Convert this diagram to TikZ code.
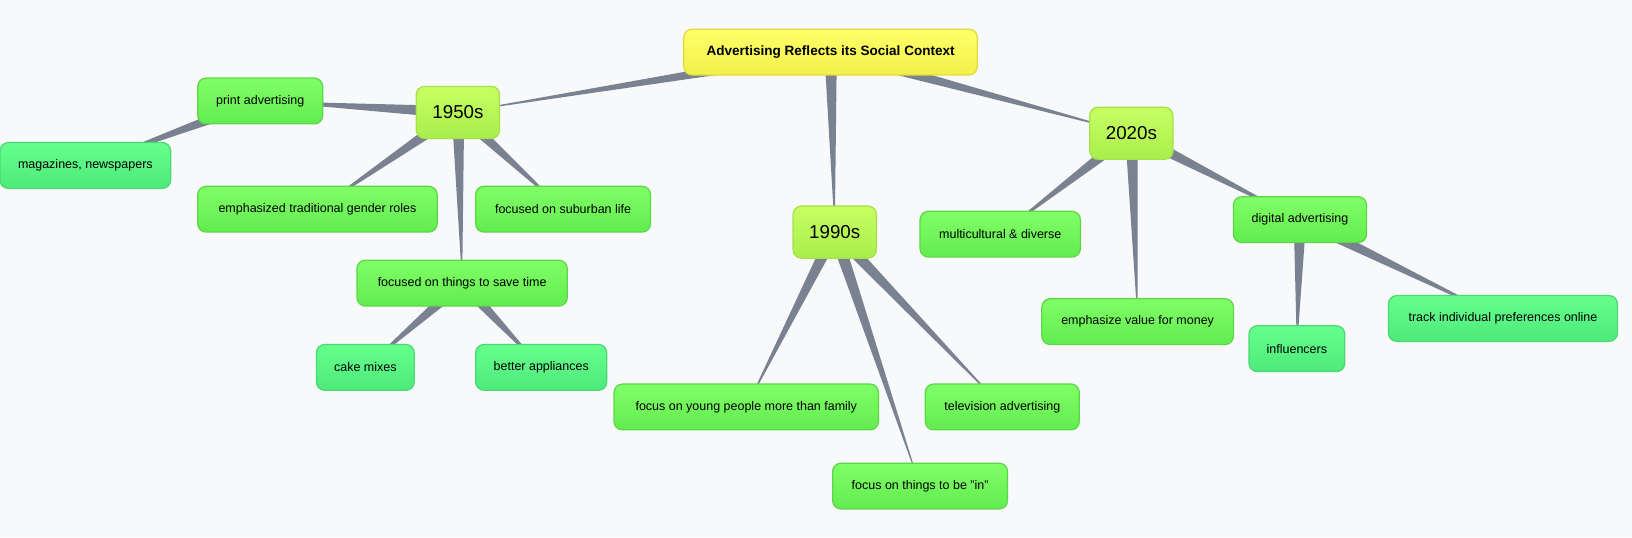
\documentclass[tikz,border=0pt]{standalone}
\usepackage{fontspec}
\setmainfont{Liberation Sans}
\usetikzlibrary{calc,backgrounds}

\definecolor{bgc}{HTML}{F8F9FA}
\definecolor{linkc}{HTML}{7A8190}
\definecolor{leafb}{HTML}{5ED64A}
\definecolor{tealb}{HTML}{4CD874}
\definecolor{yearb}{HTML}{A6E04A}
\definecolor{rootb}{HTML}{E0DC40}
\definecolor{leafc1}{HTML}{80FF66}
\definecolor{leafc2}{HTML}{62EC50}
\definecolor{tealc1}{HTML}{66FF8C}
\definecolor{tealc2}{HTML}{4DEA7A}
\definecolor{yearc1}{HTML}{C8FF62}
\definecolor{yearc2}{HTML}{A8EE4C}
\definecolor{rootc1}{HTML}{FFFF6A}
\definecolor{rootc2}{HTML}{F2F048}

\tikzset{
  topic/.style={rectangle, rounded corners=4pt, draw=leafb, line width=0.6pt,
    minimum height=22pt, inner sep=2pt, font=\fontsize{6}{7}\selectfont},
  leaf/.style={topic, top color=leafc1, bottom color=leafc2},
  teal/.style={topic, draw=tealb, top color=tealc1, bottom color=tealc2},
  year/.style={topic, draw=yearb, top color=yearc1, bottom color=yearc2,
    minimum width=40pt, minimum height=25pt, font=\fontsize{9}{10}\selectfont},
  root/.style={topic, draw=rootb, top color=rootc1, bottom color=rootc2,
    minimum width=141pt, font=\bfseries\fontsize{6.5}{7}\selectfont},
  link/.style={fill=linkc}
}

% tapered connector, wide at the parent
\newcommand{\taper}[2]{\fill[link] ($(#1.center)!3pt!90:(#2.center)$) -- ($(#1.center)!3pt!-90:(#2.center)$) -- (#2.center) -- cycle;}

\begin{document}
\begin{tikzpicture}[x=0.5pt,y=-0.5pt]
\useasboundingbox (0,0) rectangle (1568,516);

\node[root] (root) at (798,50) {Advertising Reflects its Social Context};

\node[year] (y50) at (440,108) {1950s};
\node[leaf, minimum width=60pt] (print) at (250,97) {print advertising};
\node[teal, minimum width=82pt] (mags) at (82,159) {magazines, newspapers};
\node[leaf, minimum width=115pt] (gender) at (305,201) {emphasized traditional gender roles};
\node[leaf, minimum width=84pt] (suburb) at (541,201) {focused on suburban life};
\node[leaf, minimum width=101pt] (savetime) at (444,272) {focused on things to save time};
\node[teal, minimum width=47pt] (cake) at (351,353) {cake mixes};
\node[teal, minimum width=63pt] (appl) at (520,353) {better appliances};

\node[year] (y90) at (802,223) {1990s};
\node[leaf, minimum width=127pt] (young) at (717,391) {focus on young people more than family};
\node[leaf, minimum width=74pt] (tv) at (963,391) {television advertising};
\node[leaf, minimum width=84pt] (bein) at (884,467) {focus on things to be "in"};

\node[year] (y20) at (1087,128) {2020s};
\node[leaf, minimum width=77pt] (multi) at (961,225) {multicultural \& diverse};
\node[leaf, minimum width=92pt] (value) at (1093,309) {emphasize value for money};
\node[leaf, minimum width=64pt] (digital) at (1249,211) {digital advertising};
\node[teal, minimum width=46pt] (infl) at (1246,335) {influencers};
\node[teal, minimum width=110pt] (track) at (1444,306) {track individual preferences online};

\begin{scope}[on background layer]
\fill[bgc] (0,0) rectangle (1568,516);
\taper{root}{y50} \taper{root}{y90} \taper{root}{y20}
\taper{y50}{print} \taper{print}{mags} \taper{y50}{gender}
\taper{y50}{suburb} \taper{y50}{savetime}
\taper{savetime}{cake} \taper{savetime}{appl}
\taper{y90}{young} \taper{y90}{tv} \taper{y90}{bein}
\taper{y20}{multi} \taper{y20}{value} \taper{y20}{digital}
\taper{digital}{infl} \taper{digital}{track}
\end{scope}
\end{tikzpicture}
\end{document}
